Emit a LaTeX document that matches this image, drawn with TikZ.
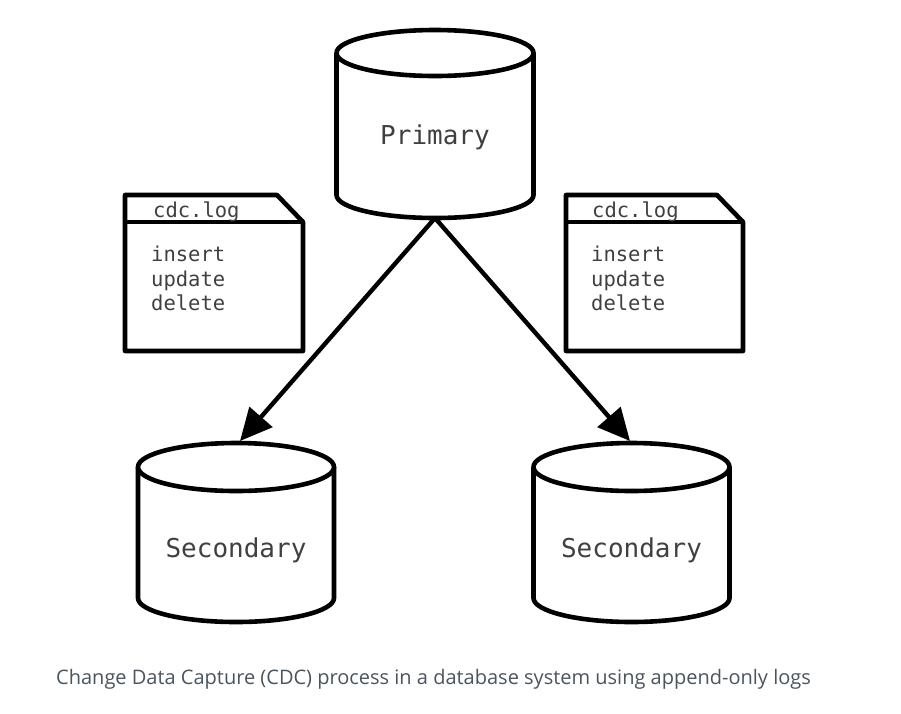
\documentclass[tikz,border=0pt]{standalone}
\usepackage{fontspec}
\setmainfont{Open Sans}
\newfontfamily\monofont{DejaVu Sans Mono}
\usetikzlibrary{arrows.meta}
\definecolor{txtgray}{HTML}{404040}
\definecolor{capgray}{HTML}{4A5560}
\tikzset{
  outline/.style={line width=4.6pt, draw=black, fill=white, line join=round},
  dblabel/.style={font=\monofont\fontsize{26}{28}\selectfont, text=txtgray, inner sep=0pt},
  loglabel/.style={font=\monofont\fontsize{20.5}{22}\selectfont, text=txtgray, inner sep=0pt, anchor=base west},
  flow/.style={line width=4.4pt, -{Triangle[length=32pt,width=30pt]}, shorten >=0pt},
}
\newcommand{\mycyl}[8]{%
  % #1 name, #2 cx, #3 top cy, #4 bottom cy, #5 rx, #6 ry, #7 label y, #8 text
  \draw[outline] (#2-#5,#3) -- (#2-#5,#4) arc[start angle=180,end angle=360,x radius=#5,y radius=-#6] -- (#2+#5,#3);
  \draw[outline] (#2,#3) ellipse[x radius=#5,y radius=#6];
  \node[dblabel] (#1) at (#2,#7) {#8};
  \coordinate (#1-top) at (#2,#3-#6);
  \coordinate (#1-bot) at (#2,#4+#6);
}
\begin{document}
\begin{tikzpicture}[x=1pt,y=-1pt]
\useasboundingbox (0,0) rectangle (901,713);
\fill[white] (0,0) rectangle (901,713);

% log boxes
\draw[outline] (125,195) -- (277,195) -- (303,222) -- (303,351) -- (125,351) -- cycle;
\draw[outline] (125,222) -- (303,222);
\node[loglabel] (log1t) at (153,217) {cdc.log};
\node[loglabel] (log1a) at (151,261) {insert};
\node[loglabel] (log1b) at (151,286) {update};
\node[loglabel] (log1c) at (151,310) {delete};

\draw[outline] (566,195) -- (717,195) -- (743,222) -- (743,351) -- (566,351) -- cycle;
\draw[outline] (566,222) -- (743,222);
\node[loglabel] (log2t) at (592,217) {cdc.log};
\node[loglabel] (log2a) at (591,261) {insert};
\node[loglabel] (log2b) at (591,286) {update};
\node[loglabel] (log2c) at (591,310) {delete};

% cylinders
\mycyl{primary}{435}{53}{195}{98.5}{23}{137}{Primary}
\mycyl{secL}{236}{467}{598}{98}{24}{550}{Secondary}
\mycyl{secR}{631.5}{467}{598}{98}{24}{550}{Secondary}

\coordinate (tipL) at (240,441);
\coordinate (tipR) at (630,441);
\draw[flow] (primary-bot) -- (tipL);
\draw[flow] (primary-bot) -- (tipR);

\node[anchor=base west, inner sep=0pt, text=capgray, font=\fontsize{20}{22}\selectfont] (caption) at (56,684) {Change Data Capture (CDC) process in a database system using append-only logs};
\end{tikzpicture}
\end{document}
